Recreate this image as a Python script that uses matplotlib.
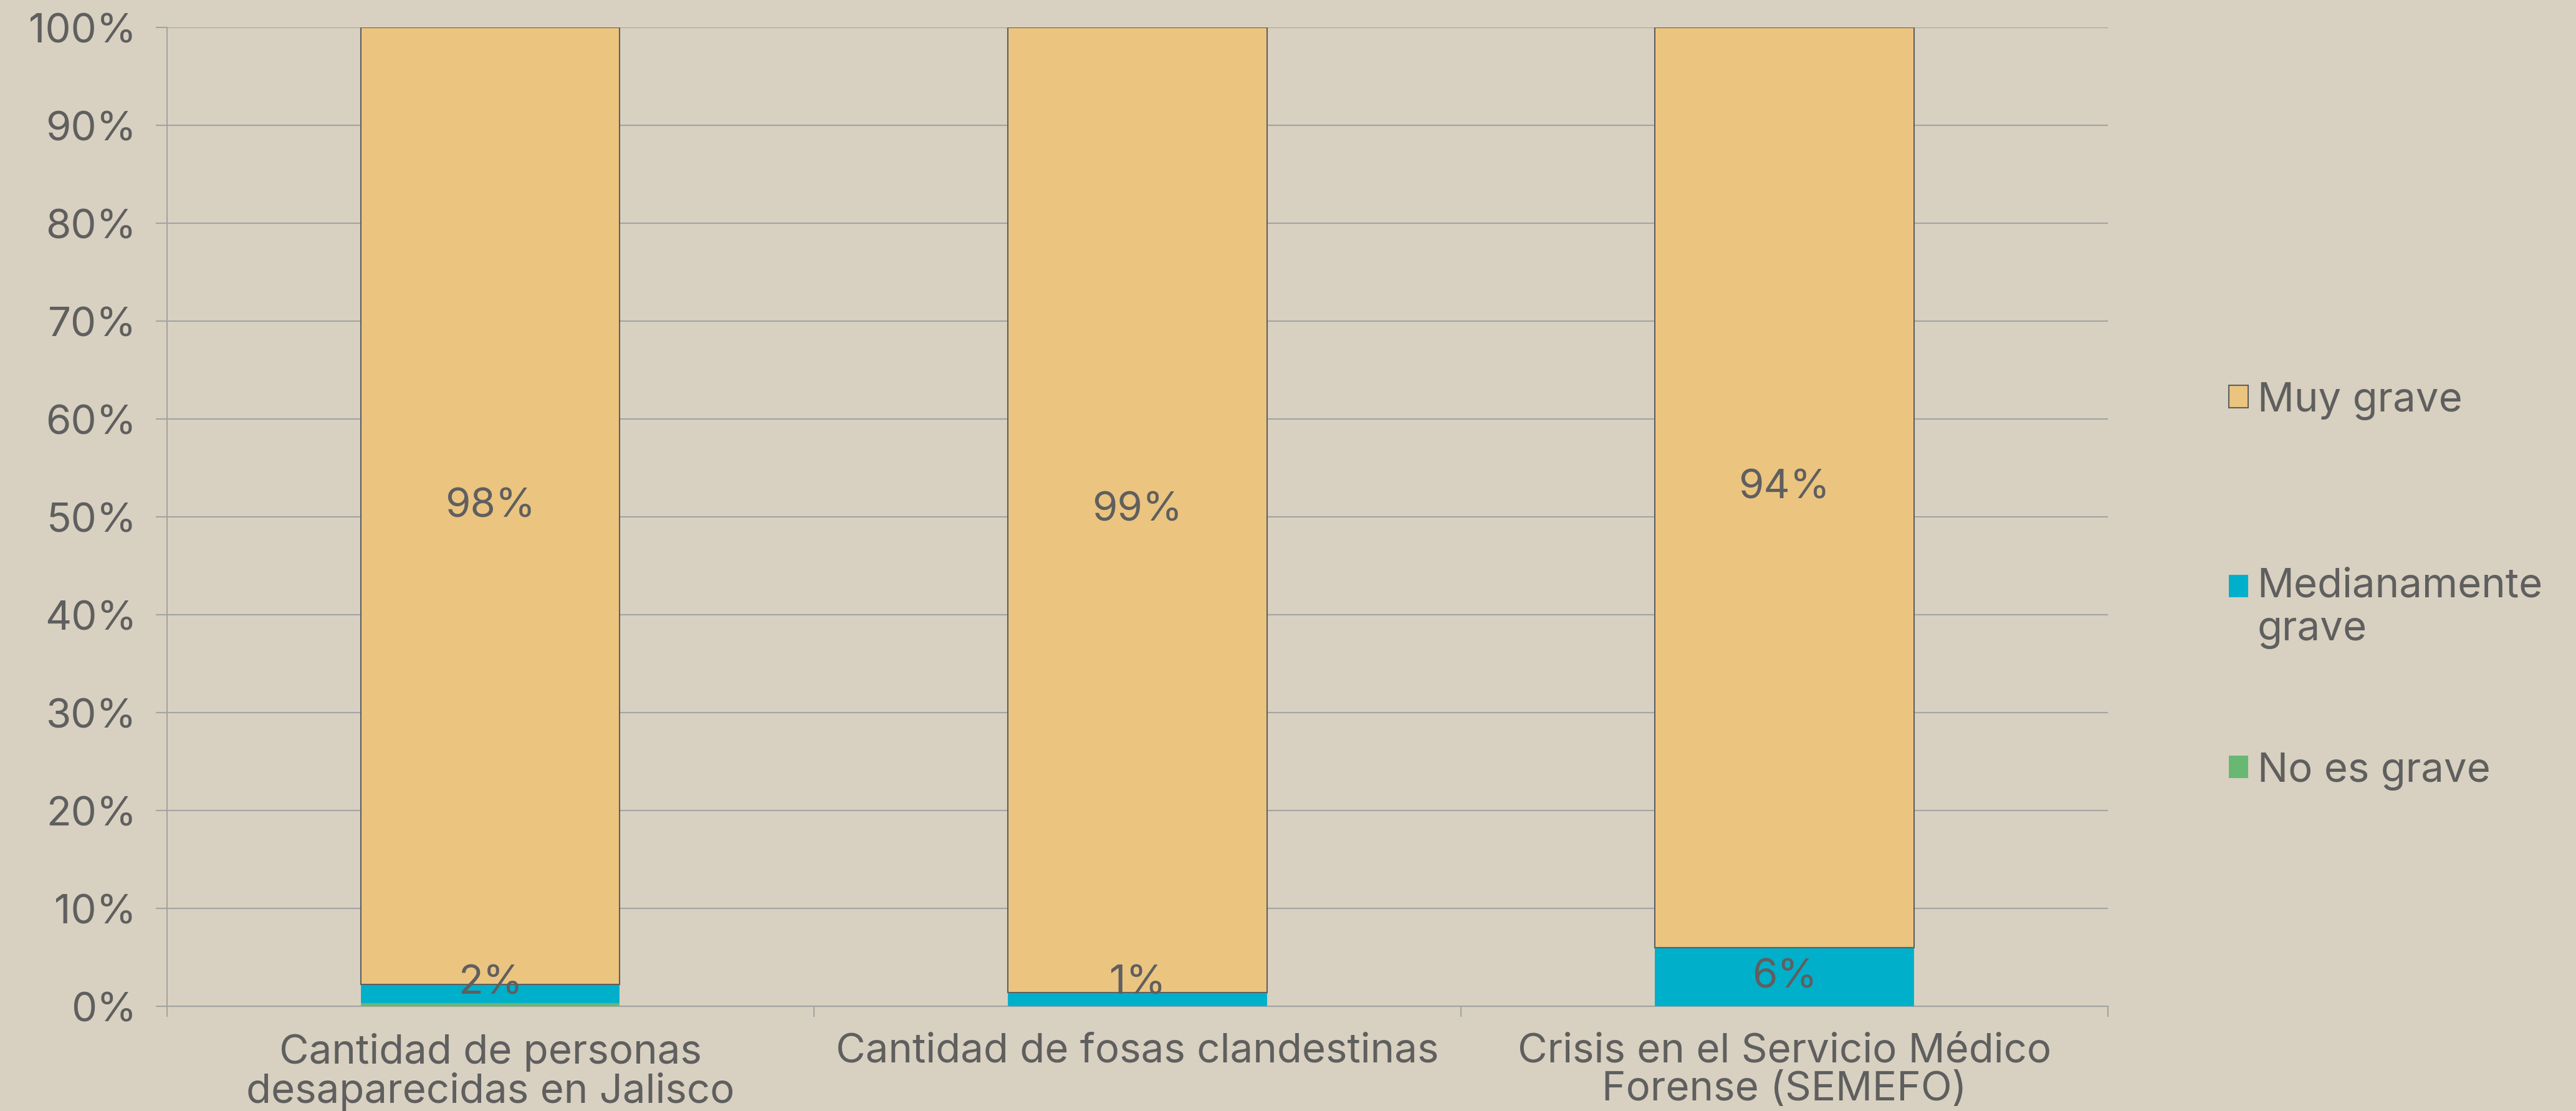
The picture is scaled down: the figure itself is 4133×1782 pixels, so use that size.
import numpy as np
import matplotlib
matplotlib.use('Agg')
import matplotlib.pyplot as plt
from matplotlib.ticker import PercentFormatter

plt.rcParams['font.family'] = ['Inter', 'DejaVu Sans']

categorias = ['Cantidad de personas\ndesaparecidas en Jalisco',
              'Cantidad de fosas clandestinas',
              'Crisis en el Servicio Médico\nForense (SEMEFO)']
no_grave = [0.3, 0.0, 0.0]
medio_grave = [1.9, 1.4, 6.0]
muy_grave = [97.8, 98.6, 94.0]

bg = '#d8d0c0'
c_muy = '#ebc480'
c_medio = '#00afca'
c_no = '#68b874'
txt = '#5f5f5f'
grid = '#a3a3a3'
fs = 47

fig = plt.figure(figsize=(41.33, 17.83), dpi=100, facecolor=bg)
ax = fig.add_axes([0.0648, 0.0942, 0.7535, 0.8806])
ax.set_facecolor(bg)

x = np.arange(len(categorias))
w = 0.4
no_arr = np.array(no_grave)
medio_arr = np.array(medio_grave)
muy_arr = np.array(muy_grave)

b_no = ax.bar(x, no_arr, w, color=c_no, label='No es grave', zorder=3)
b_medio = ax.bar(x, medio_arr, w, bottom=no_arr, color=c_medio,
                 label='Medianamente\ngrave', zorder=3)
b_muy = ax.bar(x, muy_arr, w, bottom=no_arr + medio_arr, color=c_muy,
               edgecolor=txt, linewidth=1.5, label='Muy grave', zorder=3)

# data labels, kept inside the plot area like excel does
for i in range(len(x)):
    y_med = max(no_arr[i] + medio_arr[i] / 2, 2.4)
    ax.text(x[i], y_med, f'{round(medio_arr[i])}%', ha='center', va='center',
            fontsize=fs, color=txt, zorder=4)
    y_muy = no_arr[i] + medio_arr[i] + muy_arr[i] / 2
    ax.text(x[i], y_muy, f'{round(muy_arr[i])}%', ha='center', va='center',
            fontsize=fs, color=txt, zorder=4)

ax.set_xlim(-0.5, 2.5)
ax.set_ylim(0, 100)
ax.set_yticks(np.arange(0, 101, 10))
ax.yaxis.set_major_formatter(PercentFormatter(decimals=0))
ax.grid(axis='y', color=grid, linewidth=1.5)
ax.set_axisbelow(True)

ax.set_xticks([-0.5, 0.5, 1.5, 2.5])
ax.set_xticklabels([])
ax.set_xticks(x, minor=True)
ax.set_xticklabels(categorias, minor=True, linespacing=1.03)
ax.tick_params(axis='x', which='minor', length=0, pad=30, labelsize=fs, labelcolor=txt)
ax.tick_params(axis='x', which='major', length=12, width=1.5, color=grid)
ax.tick_params(axis='y', length=13, width=1.5, color=grid, pad=22,
               labelsize=fs, labelcolor=txt)

for s in ['top', 'right']:
    ax.spines[s].set_visible(False)
for s in ['left', 'bottom']:
    ax.spines[s].set_color(grid)
    ax.spines[s].set_linewidth(1.5)

# leading blank line gives the extra gap above the two-line entry,
# and keeps its square next to the first line
leg_handles = [b_muy, b_medio, b_no]
leg_labels = ['Muy grave', '\nMedianamente\ngrave', 'No es grave']
leg = fig.legend(leg_handles, leg_labels, loc='center left',
                 bbox_to_anchor=(0.8652, 0.4723), frameon=False, fontsize=fs,
                 labelcolor=txt, handlelength=0.47, handleheight=0.47,
                 handletextpad=0.23, labelspacing=2.55, borderpad=0,
                 borderaxespad=0)

fig.savefig('out.png', dpi=100, facecolor=bg)
